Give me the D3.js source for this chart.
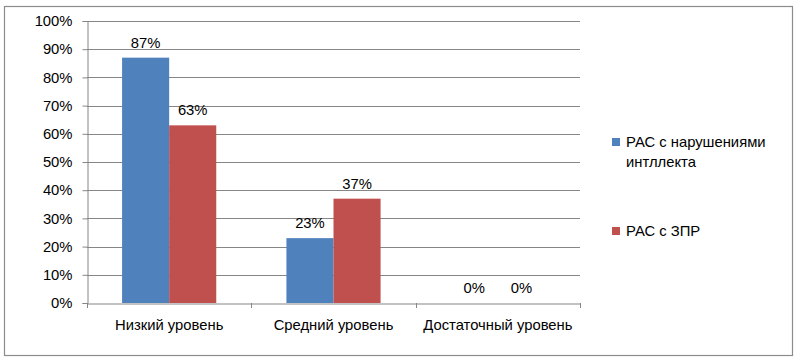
<!DOCTYPE html>
<html><head><meta charset="utf-8">
<script src="https://cdn.jsdelivr.net/npm/d3@7"></script>
<style>html,body{margin:0;padding:0;background:#fff;}svg{display:block;font-family:"Liberation Sans",Arial,sans-serif;}</style>
</head><body>
<svg id="chart" width="800" height="361"></svg>
<script>
const categories = ["Низкий уровень", "Средний уровень", "Достаточный уровень"];
const seriesNames = ["РАС с нарушениями интллекта", "РАС с ЗПР"];
const seriesA = [87, 23, 0];
const seriesB = [63, 37, 0];
const colors = ["#4F81BD", "#C0504D"];
const yTicks = [0,10,20,30,40,50,60,70,80,90,100];

(function(){
const FS = 14.8;
const svg = d3.select("#chart");
svg.append("rect").attr("x",4.5).attr("y",6.5).attr("width",788).attr("height",349)
  .attr("fill","#fff").attr("stroke","#8c8c8c").attr("stroke-width",1.2);

const pL=87, pR=580, pT=21, pB=303;
const x = d3.scaleBand().domain(categories).range([pL,pR]).paddingInner(0).paddingOuter(0);
const y = d3.scaleLinear().domain([0,100]).range([pB,pT]);
const inner = d3.scaleBand().domain([0,1]).range([0, x.bandwidth()]).paddingInner(0).paddingOuter(0.745);

// gridlines
svg.append("g").selectAll("line").data(yTicks.filter(d=>d>0)).join("line")
  .attr("x1",pL).attr("x2",pR).attr("y1",d=>Math.round(y(d))+0.5).attr("y2",d=>Math.round(y(d))+0.5)
  .attr("stroke","#868686").attr("stroke-width",1);

// y axis
const yAxis = d3.axisLeft(y).tickValues(yTicks).tickFormat(d=>d+"%").tickSize(5).tickPadding(10);
const gy = svg.append("g").attr("transform",`translate(${pL+0.5},0)`).call(yAxis);
gy.select(".domain").attr("stroke","#868686");
gy.selectAll(".tick line").attr("stroke","#868686");
gy.selectAll(".tick text").attr("font-size",FS).attr("fill","#000").attr("font-family","Liberation Sans, Arial, sans-serif");

// bars
const data = categories.map((c,i)=>({c, vals:[seriesA[i], seriesB[i]]}));
const groups = svg.append("g").selectAll("g").data(data).join("g")
  .attr("transform",d=>`translate(${x(d.c)},0)`);
groups.selectAll("rect").data(d=>d.vals.map((v,k)=>({v,k}))).join("rect")
  .attr("x",d=>inner(d.k)).attr("width",inner.bandwidth())
  .attr("y",d=>y(d.v)).attr("height",d=>pB-y(d.v))
  .attr("fill",d=>colors[d.k]);
groups.selectAll("text").data(d=>d.vals.map((v,k)=>({v,k}))).join("text")
  .attr("x",d=>inner(d.k)+inner.bandwidth()/2).attr("y",d=>y(d.v)-10)
  .attr("text-anchor","middle").attr("font-size",FS).attr("fill","#000")
  .text(d=>d.v+"%");

// x axis
const xAxis = d3.axisBottom(x).tickSize(0).tickPadding(16);
const gx = svg.append("g").attr("transform",`translate(0,${pB+0.5})`).call(xAxis);
gx.select(".domain").attr("stroke","#868686");
gx.selectAll(".tick text").attr("font-size",FS).attr("fill","#000").attr("font-family","Liberation Sans, Arial, sans-serif");
// category separators
const seps = [pL, ...categories.map(c=>x(c)+x.bandwidth())];
svg.append("g").selectAll("line").data(seps).join("line")
  .attr("x1",d=>Math.round(d)+0.5).attr("x2",d=>Math.round(d)+0.5)
  .attr("y1",pB).attr("y2",pB+5).attr("stroke","#868686");

// legend
const legend = svg.append("g");
const legY = [142, 231];
seriesNames.forEach((name,i)=>{
  legend.append("rect").attr("x",612).attr("y",legY[i]-4).attr("width",8).attr("height",8).attr("fill",colors[i]);
});
const t1 = legend.append("text").attr("x",626).attr("y",legY[0]+5).attr("font-size",FS).attr("fill","#000");
t1.append("tspan").attr("x",626).text("РАС с нарушениями");
t1.append("tspan").attr("x",626).attr("dy",20).text("интллекта");
legend.append("text").attr("x",626).attr("y",legY[1]+5).attr("font-size",FS).attr("fill","#000").text(seriesNames[1]);
})();
</script>
</body></html>
